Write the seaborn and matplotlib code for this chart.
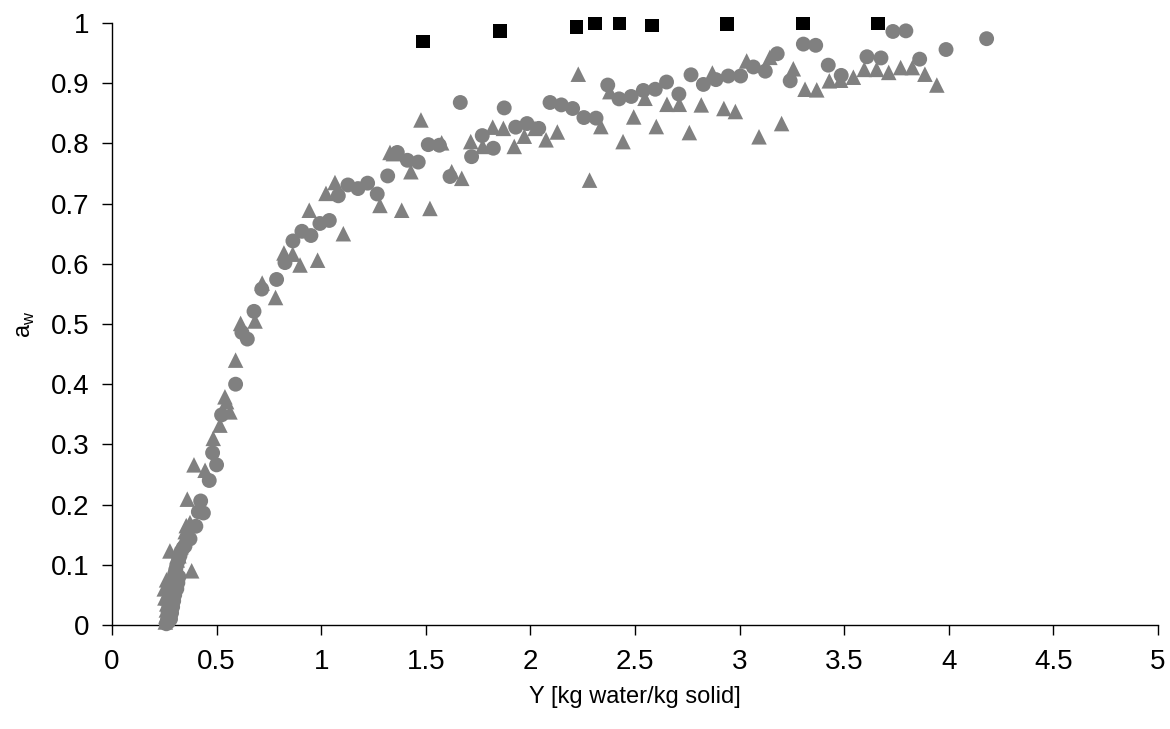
import matplotlib
matplotlib.use("Agg")
import matplotlib.pyplot as plt
import seaborn as sns
import numpy as np
import pandas as pd
from matplotlib.ticker import FuncFormatter

# ---- data ----
circle_x = [
    0.260, 0.265, 0.270, 0.268, 0.272, 0.275, 0.278, 0.280, 0.283, 0.287, 0.290, 0.295,
    0.300, 0.305, 0.310, 0.318, 0.325, 0.330, 0.340, 0.270, 0.280, 0.285, 0.290, 0.295,
    0.300, 0.310, 0.315, 0.320,
    0.349, 0.373, 0.401, 0.413, 0.424, 0.437, 0.465, 0.481, 0.500, 0.524, 0.591,
    0.621, 0.647, 0.679, 0.716, 0.787, 0.827, 0.865, 0.908, 0.951, 0.994, 1.039,
    1.082, 1.128, 1.176, 1.222, 1.268, 1.318, 1.364, 1.412, 1.464, 1.512, 1.565,
    1.616, 1.665, 1.719, 1.770, 1.823, 1.875, 1.930, 1.984, 2.040, 2.094, 2.148,
    2.202, 2.256, 2.314, 2.370, 2.424, 2.482, 2.540, 2.597, 2.651, 2.710, 2.768,
    2.827, 2.887, 2.946, 3.005, 3.066, 3.123, 3.180, 3.242, 3.305, 3.364, 3.424,
    3.486, 3.609, 3.676, 3.733, 3.795, 3.861, 3.987, 4.181,
]
circle_y = [
    0.002, 0.008, 0.015, 0.022, 0.030, 0.035, 0.042, 0.050, 0.055, 0.062, 0.070, 0.078,
    0.085, 0.092, 0.100, 0.108, 0.115, 0.122, 0.128, 0.005, 0.010, 0.020, 0.030, 0.040,
    0.050, 0.060, 0.070, 0.080,
    0.131, 0.143, 0.164, 0.188, 0.206, 0.186, 0.240, 0.286, 0.266, 0.349, 0.400,
    0.486, 0.475, 0.521, 0.558, 0.574, 0.602, 0.638, 0.654, 0.647, 0.667, 0.672,
    0.713, 0.731, 0.725, 0.734, 0.716, 0.746, 0.785, 0.772, 0.769, 0.798, 0.797,
    0.745, 0.868, 0.778, 0.813, 0.792, 0.859, 0.827, 0.833, 0.825, 0.868, 0.864,
    0.858, 0.843, 0.842, 0.897, 0.874, 0.878, 0.888, 0.890, 0.902, 0.882, 0.914,
    0.898, 0.906, 0.912, 0.912, 0.927, 0.920, 0.949, 0.904, 0.965, 0.963, 0.930,
    0.913, 0.944, 0.942, 0.986, 0.987, 0.940, 0.956, 0.974,
]

triangle_x = [
    0.255, 0.258, 0.260, 0.262, 0.265, 0.268, 0.272, 0.277, 0.283, 0.290, 0.297, 0.305,
    0.312, 0.320, 0.330, 0.340, 0.350, 0.355, 0.277, 0.261, 0.250, 0.253,
    0.360, 0.373, 0.381, 0.392, 0.445, 0.484, 0.516, 0.540, 0.548, 0.564, 0.591,
    0.615, 0.684, 0.718, 0.782, 0.822, 0.864, 0.899, 0.943, 0.983, 1.023, 1.066,
    1.106, 1.281, 1.329, 1.345, 1.385, 1.429, 1.477, 1.520, 1.576, 1.624, 1.672,
    1.715, 1.772, 1.820, 1.871, 1.923, 1.971, 2.022, 2.075, 2.129, 2.229, 2.283,
    2.337, 2.380, 2.443, 2.494, 2.548, 2.602, 2.653, 2.712, 2.760, 2.817, 2.870,
    2.925, 2.980, 3.034, 3.093, 3.145, 3.201, 3.257, 3.313, 3.369, 3.429, 3.483,
    3.544, 3.596, 3.655, 3.713, 3.770, 3.826, 3.886, 3.943,
]
triangle_y = [
    0.005, 0.015, 0.025, 0.035, 0.045, 0.055, 0.062, 0.070, 0.078, 0.085, 0.093, 0.100,
    0.108, 0.115, 0.130, 0.140, 0.155, 0.165, 0.123, 0.075, 0.060, 0.045,
    0.209, 0.170, 0.090, 0.266, 0.257, 0.310, 0.332, 0.379, 0.371, 0.354, 0.440,
    0.501, 0.505, 0.568, 0.544, 0.618, 0.616, 0.598, 0.689, 0.606, 0.717, 0.735,
    0.650, 0.697, 0.785, 0.783, 0.689, 0.753, 0.839, 0.692, 0.801, 0.753, 0.742,
    0.803, 0.795, 0.827, 0.825, 0.795, 0.812, 0.825, 0.806, 0.819, 0.915, 0.739,
    0.828, 0.886, 0.803, 0.844, 0.875, 0.828, 0.865, 0.865, 0.818, 0.864, 0.917,
    0.858, 0.853, 0.937, 0.811, 0.943, 0.833, 0.924, 0.890, 0.889, 0.904, 0.905,
    0.910, 0.923, 0.923, 0.918, 0.926, 0.926, 0.915, 0.897,
]

square_x = [1.488, 1.856, 2.220, 2.309, 2.425, 2.581, 2.941, 3.303, 3.662]
square_y = [0.969, 0.987, 0.993, 0.999, 0.999, 0.996, 0.998, 0.999, 0.999]

x_ticks = [0, 0.5, 1, 1.5, 2, 2.5, 3, 3.5, 4, 4.5, 5]
y_ticks = [0, 0.1, 0.2, 0.3, 0.4, 0.5, 0.6, 0.7, 0.8, 0.9, 1]
x_label = "Y [kg water/kg solid]"
y_label = r"a$_{\mathregular{w}}$"

# ---- styling ----
sns.set_style("ticks")
plt.rcParams["font.family"] = ["Liberation Sans", "DejaVu Sans"]

fig = plt.figure(figsize=(11.7, 7.29), dpi=100)
ax = fig.add_axes([0.0957, 0.1427, 0.8940, 0.8257])

gray = "#808080"
sns.scatterplot(x=circle_x, y=circle_y, ax=ax, marker="o", s=115, color=gray,
                edgecolor="none", linewidth=0, clip_on=False, zorder=3)
sns.scatterplot(x=triangle_x, y=triangle_y, ax=ax, marker="^", s=125, color=gray,
                edgecolor="none", linewidth=0, clip_on=False, zorder=3)
sns.scatterplot(x=square_x, y=square_y, ax=ax, marker="s", s=95, color="black",
                edgecolor="none", linewidth=0, clip_on=False, zorder=4)

ax.set_xlim(0, 5)
ax.set_ylim(0, 1)
ax.set_xticks(x_ticks)
ax.set_yticks(y_ticks)
fmt = FuncFormatter(lambda v, p: f"{v:g}")
ax.xaxis.set_major_formatter(fmt)
ax.yaxis.set_major_formatter(fmt)
ax.tick_params(axis="both", direction="out", length=7, width=1, color="black",
               labelsize=20, labelcolor="black")
ax.tick_params(axis="x", pad=10)
ax.tick_params(axis="y", pad=9)

for side in ["top", "right"]:
    ax.spines[side].set_visible(False)
for side in ["left", "bottom"]:
    ax.spines[side].set_color("black")
    ax.spines[side].set_linewidth(1)

ax.set_xlabel(x_label, fontsize=17, labelpad=8, color="black")
ax.set_ylabel(y_label, fontsize=17, labelpad=10, color="black")
ax.grid(False)

fig.savefig("out.png", dpi=100, facecolor="white")
